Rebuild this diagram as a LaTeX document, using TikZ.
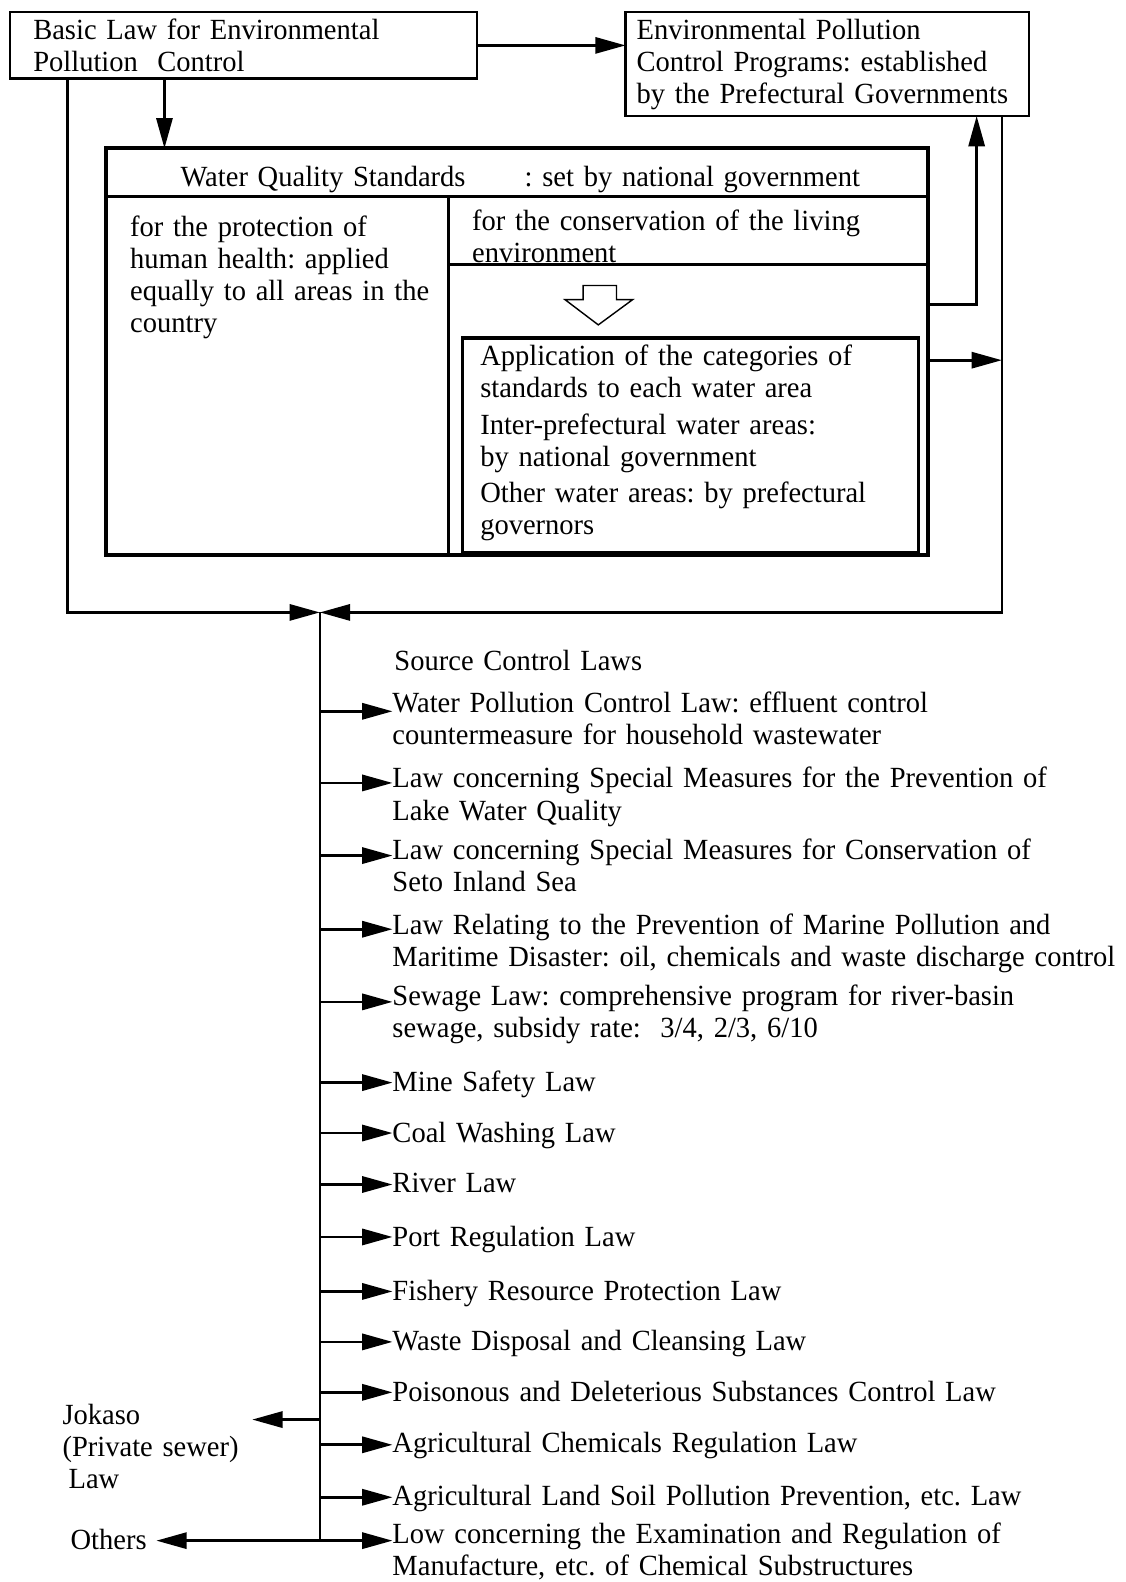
\documentclass[tikz,border=0pt]{standalone}
\usepackage{fontspec}
\setmainfont[FakeStretch=0.975]{Liberation Serif}
\usetikzlibrary{arrows.meta}
\newcommand{\dfont}{\fontsize{14.5}{15.9}\selectfont\frenchspacing}
\begin{document}
\begin{tikzpicture}[x=0.5pt,y=-0.5pt,
  every node/.style={inner sep=0pt,outer sep=0pt},
  box/.style={draw,line width=1.2pt},
  txt/.style={anchor=base west,align=left,text width=440pt,font=\dfont},
  ln/.style={line width=1.3pt},
  conn/.style={ln,-{Triangle[length=15pt,width=8pt]}},
  div/.style={line width=1.5pt},
]
\useasboundingbox[fill=white] (0,0) rectangle (1116,1568);

% top boxes
\node[box,minimum width=231.5pt,minimum height=33pt] (basic) at (241.5,45) {};
\node[txt] (basict) at (33,39) {Basic Law for Environmental\\Pollution\ \ Control};
\node[box,minimum width=200pt,minimum height=51.5pt] (ep) at (820,63.5) {};
\node[txt] (ept) at (631,39) {Environmental Pollution\\Control Programs: established\\by the Prefectural Governments};

% water quality standards box
\node[draw,line width=2pt,minimum width=407.5pt,minimum height=201.5pt] (wq) at (512.5,348.5) {};
\node[txt] (wqt) at (179,185) {Water Quality Standards};
\node[txt] (wqs) at (520,185) {: set by national government};
\coordinate (cdiv) at (445,195);
\draw[div] (wq.west |- cdiv) -- (wq.east |- cdiv);
\draw[div] (cdiv) -- (wq.south -| cdiv);
\node[txt] (health) at (129,234) {for the protection of\\human health: applied\\equally to all areas in the\\country};
\node[txt] (living) at (468,228) {for the conservation of the living\\environment};
\coordinate (rdiv) at (445,262);
\draw[div] (rdiv) -- (wq.east |- rdiv);
\draw[line width=0.7pt] (578,283) -- (611,283) -- (611,297) -- (627,297) -- (593,322) -- (560,297) -- (578,297) -- cycle;
\node[draw,line width=1.5pt,minimum width=226pt,minimum height=106.5pt] (inner) at (684,441.5) {};
\node[txt] (innert) at (476,362) {Application of the categories of\\standards to each water area\\[2.5pt]Inter-prefectural water areas:\\by national government\\[2pt]Other water areas: by prefectural\\governors};

% connectors at top
\coordinate (dn) at (163,0);
\coordinate (lv) at (67,0);
\coordinate (upx) at (968,0);
\coordinate (rvx) at (993,0);
\coordinate (jn) at (317,607);
\draw[conn] (basic.east) -- (basic.east -| ep.west);
\draw[conn] (basic.south -| dn) -- (wq.north -| dn);
\draw[conn] (wq.east |- 0,302) -| (ep.south -| upx);
\coordinate (rv) at (993,357);
\draw[conn] (wq.east |- rv) -- (rv);
\draw[conn] (basic.south -| lv) |- (jn);
\draw[conn] (ep.south -| rvx) |- (jn);
\coordinate (bot) at (317,1527);
\draw[ln] (jn) -- (bot);

% source control laws
\node[txt] (scl) at (391,665) {Source Control Laws};
\node[txt] (l1) at (389,706) {Water Pollution Control Law: effluent control\\countermeasure for household wastewater};
\node[txt] (l2) at (389,781) {Law concerning Special Measures for the Prevention of\\Lake Water Quality};
\node[txt] (l3) at (389,852) {Law concerning Special Measures for Conservation of\\Seto Inland Sea};
\node[txt] (l4) at (389,926) {Law Relating to the Prevention of Marine Pollution and\\Maritime Disaster: oil, chemicals and waste discharge control};
\node[txt] (l5) at (389,997) {Sewage Law: comprehensive program for river-basin\\sewage, subsidy rate:\ \ 3/4, 2/3, 6/10};
\node[txt] (l6) at (389,1082) {Mine Safety Law};
\node[txt] (l7) at (389,1132) {Coal Washing Law};
\node[txt] (l8) at (389,1182) {River Law};
\node[txt] (l9) at (389,1235) {Port Regulation Law};
\node[txt] (l10) at (389,1289) {Fishery Resource Protection Law};
\node[txt] (l11) at (389,1339) {Waste Disposal and Cleansing Law};
\node[txt] (l12) at (389,1389) {Poisonous and Deleterious Substances Control Law};
\node[txt] (l13) at (389,1440) {Agricultural Chemicals Regulation Law};
\node[txt] (l14) at (389,1492) {Agricultural Land Soil Pollution Prevention, etc. Law};
\node[txt] (l15) at (389,1530) {Low concerning the Examination and Regulation of\\Manufacture, etc. of Chemical Substructures};

\foreach \n/\y in {l1/705,l2/776,l3/848,l4/921,l5/993,l6/1073,l7/1123,l8/1174,l9/1226,l10/1280,l11/1330,l12/1380,l13/1432,l14/1484,l15/1527}
  \draw[conn] (jn |- 0,\y) -- (\n.west |- 0,\y);

% left branches
\node[txt] (jok) at (62,1412) {Jokaso\\(Private sewer)\\\hspace*{3pt}Law};
\node[txt] (oth) at (70,1536) {Others};
\coordinate (jokt) at (250,1407);
\coordinate (otht) at (155,1527);
\draw[conn] (jn |- jokt) -- (jokt);
\draw[conn] (bot) -- (otht);
\end{tikzpicture}
\end{document}
